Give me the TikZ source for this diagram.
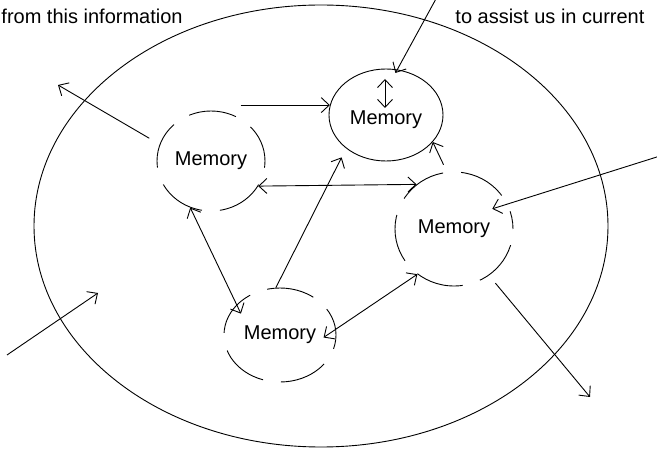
\documentclass[tikz,border=0pt]{standalone}
\usepackage{fontspec}
\setmainfont{Liberation Sans}
\usetikzlibrary {arrows.meta, shapes.geometric}
\tikzset{
  >={Straight Barb[length=8pt,width=15pt]}
}
\begin{document}
\begin{tikzpicture}[x=1pt, y=-1pt, line width=0.9pt,
    font=\fontsize{20}{24}\selectfont,
    memory/.style={ellipse, draw, inner sep=0pt, dash pattern=on 48pt off 18pt},
    remark/.style={inner sep=0pt, anchor=base west}]
    \useasboundingbox (0, 0) rectangle (657, 449);
    % mind
    \draw (321, 226) ellipse [x radius=287pt, y radius=221pt];
    % memories
    \node[memory, solid, text height=24pt, minimum width=114pt, minimum height=92pt] (memT) at (386, 115) {Memory};
    \node[memory, dash phase=10pt, minimum width=108pt, minimum height=100pt] (memL) at (211, 161) {Memory};
    \node[memory, dash phase=30pt, minimum width=118pt, minimum height=114pt] (memR) at (454, 229) {Memory};
    \node[memory, dash phase=20pt, minimum width=112pt, minimum height=94pt] (memB) at (280, 335) {Memory};
    % texts (cut at the top)
    \node[remark] (infoL) at (1, 24) {from this information};
    \node[remark] (infoR) at (455, 24) {to assist us in current};
    % free ends
    \coordinate (inN) at (437, -3);
    \coordinate (inE) at (660, 156);
    \coordinate (inSW) at (7, 355);
    \coordinate (inSWend) at (98, 293);
    \coordinate (outNW) at (58, 85);
    \coordinate (outSE) at (590, 397);
    \coordinate (loopA) at (385, 79);
    \coordinate (loopB) at (385, 108);
    % links between memories
    \draw[->] (memL.55 |- memT.170) -- (memT.170);
    \draw[<->] (memL.-28) -- (memR.130);
    \draw[->, shorten >=10pt] (memB.95) -- (memT.-140);
    \draw[->, shorten <=8pt] (memR.97) -- (memT.-30);
    \draw[<->, shorten >=-10pt] (memL.-114) -- (memB.145);
    \draw[<->, shorten >=-15pt] (memR.-129) -- (memB.6);
    \draw[<->] (loopA) -- (loopB);
    % in and out
    \draw[->, shorten >=-4pt] (inN) -- (memT.76);
    \draw[->, shorten >=-16pt] (inE) -- (memR.25);
    \draw[->] (inSW) -- (inSWend);
    \draw[->, shorten <=12pt] (memL.162) -- (outNW);
    \draw[->, shorten <=10pt] (memR.-53) -- (outSE);
\end{tikzpicture}
\end{document}
